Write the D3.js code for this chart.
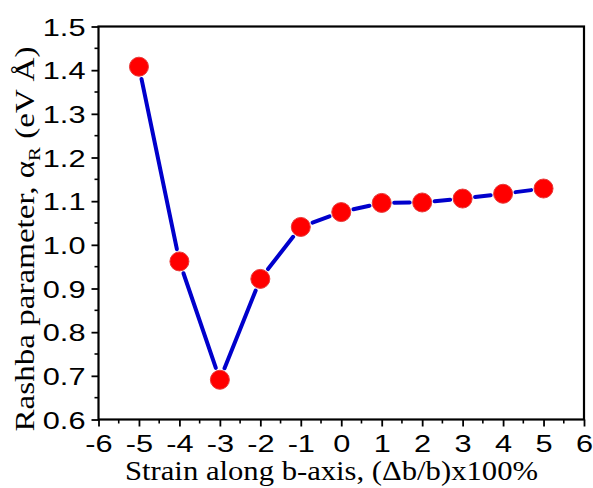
<!DOCTYPE html>
<html><head><meta charset="utf-8">
<script src="https://cdn.jsdelivr.net/npm/d3@7"></script>
<style>body{margin:0;background:#fff}svg{display:block}</style>
</head><body>
<script>
const strain = [-5, -4, -3, -2, -1, 0, 1, 2, 3, 4, 5];
const rashba = [1.408, 0.962, 0.691, 0.922, 1.041, 1.075, 1.096, 1.097, 1.106, 1.117, 1.129];
const xTicks = [-6, -5, -4, -3, -2, -1, 0, 1, 2, 3, 4, 5, 6];
const yTicks = [0.6, 0.7, 0.8, 0.9, 1.0, 1.1, 1.2, 1.3, 1.4, 1.5];

const W = 593, H = 488;
const m = {left: 98.5, right: 584, top: 26.5, bottom: 419.5};
const svg = d3.select("body").append("svg").attr("width", W).attr("height", H);
const x = d3.scaleLinear().domain([-6, 6]).range([m.left, m.right]);
const y = d3.scaleLinear().domain([0.6, 1.5]).range([m.bottom, m.top]);

const sans = "'Liberation Sans', Arial, sans-serif";
const serif = "'Liberation Serif', 'Times New Roman', serif";

// minor ticks
const xMinor = d3.range(-5.5, 6, 1);
const yMinor = d3.range(0.65, 1.5, 0.1);
svg.append("g").selectAll("line").data(xMinor).join("line")
  .attr("x1", d => x(d)).attr("x2", d => x(d)).attr("y1", m.bottom).attr("y2", m.bottom + 4)
  .attr("stroke", "#000").attr("stroke-width", 1.6);
svg.append("g").selectAll("line").data(yMinor).join("line")
  .attr("y1", d => y(d)).attr("y2", d => y(d)).attr("x1", m.left).attr("x2", m.left - 4)
  .attr("stroke", "#000").attr("stroke-width", 1.6);

const xAxis = svg.append("g").attr("transform", `translate(0,${m.bottom})`)
  .call(d3.axisBottom(x).tickValues(xTicks).tickFormat(d => String(d)).tickSize(7).tickPadding(8));
const yAxis = svg.append("g").attr("transform", `translate(${m.left},0)`)
  .call(d3.axisLeft(y).tickValues(yTicks).tickFormat(d3.format(".1f")).tickSize(7).tickPadding(6));
[xAxis, yAxis].forEach(g => {
  g.select(".domain").remove();
  g.selectAll(".tick line").attr("stroke", "#000").attr("stroke-width", 1.8);
  g.selectAll("text").attr("font-family", sans).attr("font-size", 24).attr("fill", "#000")
    .each(function() {
      const L = this.getComputedTextLength();
      d3.select(this).attr("textLength", L * 1.28).attr("lengthAdjust", "spacingAndGlyphs");
    });
});
yAxis.selectAll("text").attr("dy", "0.36em");
xAxis.selectAll("text").attr("dy", "0.71em");

// frame
svg.append("rect").attr("x", m.left).attr("y", m.top)
  .attr("width", m.right - m.left).attr("height", m.bottom - m.top)
  .attr("fill", "none").attr("stroke", "#000").attr("stroke-width", 2.2);

// line segments with gaps
const pts = strain.map((s, i) => [x(s), y(rashba[i])]);
const r = 9.5, gap = 3;
const segs = [];
for (let i = 0; i < pts.length - 1; i++) {
  const [x1, y1] = pts[i], [x2, y2] = pts[i + 1];
  const L = Math.hypot(x2 - x1, y2 - y1), ux = (x2 - x1) / L, uy = (y2 - y1) / L;
  const off = r + gap;
  segs.push([x1 + ux * off, y1 + uy * off, x2 - ux * off, y2 - uy * off]);
}
svg.append("g").selectAll("line").data(segs).join("line")
  .attr("x1", d => d[0]).attr("y1", d => d[1]).attr("x2", d => d[2]).attr("y2", d => d[3])
  .attr("stroke", "#0000cc").attr("stroke-width", 4).attr("stroke-linecap", "round");

svg.append("g").selectAll("circle").data(strain).join("circle")
  .attr("cx", (d) => x(d)).attr("cy", (d, i) => y(rashba[i])).attr("r", r)
  .attr("fill", "#ff0000").attr("stroke", "#e83a3a").attr("stroke-width", 1);

// axis titles
svg.append("text").attr("x", 331.5).attr("y", 480).attr("text-anchor", "middle")
  .attr("font-family", serif).attr("font-size", 27).attr("fill", "#000")
  .attr("textLength", 413).attr("lengthAdjust", "spacingAndGlyphs")
  .text("Strain along b-axis, (\u0394b/b)x100%");

const yl = svg.append("text").attr("transform", "translate(34,239) rotate(-90)")
  .attr("text-anchor", "middle").attr("font-family", serif).attr("font-size", 27).attr("fill", "#000")
  .attr("textLength", 385).attr("lengthAdjust", "spacingAndGlyphs");
yl.append("tspan").text("Rashba parameter, \u03b1");
yl.append("tspan").attr("font-size", 17).attr("dy", 6).text("R");
yl.append("tspan").attr("dy", -6).text(" (eV \u00c5)");
</script>
</body></html>
